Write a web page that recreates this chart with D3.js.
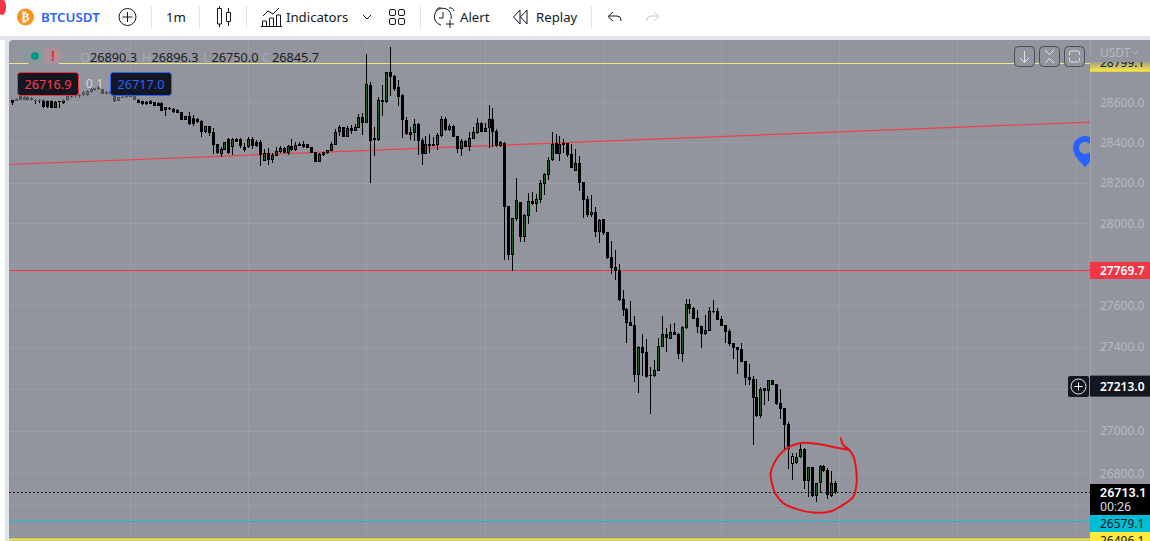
<!DOCTYPE html>
<html><head><meta charset="utf-8">
<script src="https://cdn.jsdelivr.net/npm/d3@7/dist/d3.min.js"></script>
<style>
html,body{margin:0;padding:0;background:#fff;overflow:hidden}
svg{display:block}
text{font-family:"Noto Sans",sans-serif}
</style></head><body>
<svg id="c" width="1150" height="541"></svg>
<script>
const highs=[28610,28620,28636,28631,28631,28625,28616,28618,28615,28611,
28610,28605,28606,28615,28631,28636,28641,28644,28656,28661,
28673,28681,28683,28669,28656,28661,28636,28628,28631,28634,
28634,28634,28616,28606,28606,28611,28603,28600,28603,28578,
28576,28571,28565,28551,28533,28550,28535,28520,28510,28482,
28480,28472,28394,28375,28404,28420,28420,28420,28420,28395,
28425,28427,28412,28412,28365,28370,28349,28379,28382,28375,
28387,28415,28402,28404,28409,28394,28379,28352,28346,28354,
28362,28404,28468,28488,28478,28482,28485,28492,28541,28548,
28844,28702,28475,28628,28686,28752,28880,28736,28711,28641,
28525,28475,28518,28495,28420,28432,28442,28429,28445,28531,
28525,28492,28485,28434,28417,28412,28450,28475,28520,28500,
28498,28586,28570,28465,28407,28402,
28086,28027,28221,28107,28045,28148,28156,28144,28213,28246,
28326,28451,28442,28432,28417,28396,28392,28368,28334,28203,
28135,28140,28079,28020,28022,27958,27914,27870,
27803,27676,27587,27623,27547,27403,27462,27438,27302,27337,
27445,27547,27490,27511,27517,27466,27501,27631,27632,27592,
27579,27501,27555,27592,27628,27587,27547,27506,27485,27420,
27401,27417,27332,27318,27259,27249,27211,27206,27241,27240,
27225,27198,27107,27043,26895,26895,26938,26918,26830,26832,
26753,26841,26840,26824,26811,26764];
const opens=[28610,28616,28633,28628,28628,28620,28611,28613,28611,28606,
28606,28571,28605,28595,28610,28625,28636,28638,28636,28636,
28653,28661,28678,28666,28653,28644,28631,28608,28628,28631,
28631,28631,28613,28605,28603,28606,28600,28596,28595,28560,
28573,28568,28561,28550,28513,28531,28522,28518,28507,28452,
28480,28450,28390,28342,28364,28419,28379,28419,28415,28379,
28375,28417,28402,28400,28309,28347,28312,28334,28352,28372,
28346,28382,28364,28392,28390,28390,28377,28351,28304,28352,
28346,28359,28387,28450,28475,28429,28470,28458,28473,28525,
28498,28686,28420,28412,28611,28601,28751,28731,28676,28636,
28512,28450,28447,28492,28412,28342,28392,28392,28387,28432,
28518,28462,28482,28432,28369,28409,28379,28419,28445,28497,
28453,28470,28517,28458,28382,28399,
28086,27846,28022,28107,27931,28038,28110,28095,28115,28193,
28238,28310,28396,28343,28399,28396,28343,28260,28298,28203,
28120,28042,28055,27960,28022,27958,27836,27787,
27773,27632,27584,27521,27506,27265,27400,27376,27265,27262,
27286,27400,27461,27438,27472,27462,27366,27492,27608,27589,
27538,27501,27464,27478,27574,27574,27535,27506,27477,27420,
27401,27390,27332,27256,27246,27160,27070,27203,27190,27240,
27222,27131,27107,27035,26843,26847,26876,26915,26766,26830,
26695,26753,26835,26818,26695,26753];
const closes=[28596,28608,28613,28613,28611,28610,28610,28610,28576,28576,
28571,28603,28603,28611,28630,28633,28633,28634,28653,28658,
28669,28678,28666,28644,28644,28658,28605,28625,28623,28626,
28628,28613,28598,28590,28590,28593,28583,28581,28556,28576,
28566,28553,28548,28513,28531,28492,28490,28500,28452,28480,
28448,28387,28346,28367,28400,28346,28419,28404,28380,28364,
28419,28382,28384,28337,28346,28312,28337,28356,28372,28347,
28384,28362,28385,28384,28375,28374,28349,28304,28342,28337,
28360,28392,28450,28475,28429,28470,28457,28475,28525,28498,
28691,28409,28412,28611,28601,28751,28726,28669,28628,28510,
28442,28437,28493,28409,28342,28392,28382,28384,28437,28517,
28462,28482,28429,28369,28409,28379,28420,28452,28497,28453,
28472,28517,28450,28382,28402,28082,
27846,28027,28115,27931,28042,28110,28095,28120,28200,28245,
28313,28392,28344,28392,28389,28336,28275,28296,28200,28117,
28040,28056,27958,28017,27955,27831,27782,27769,
27628,27579,27517,27503,27267,27400,27372,27256,27262,27288,
27403,27461,27441,27470,27457,27366,27498,27608,27585,27537,
27496,27464,27482,27573,27571,27532,27501,27474,27415,27395,
27387,27329,27251,27243,27156,27070,27201,27188,27240,27217,
27126,27102,27030,26915,26882,26877,26915,26766,26830,26694,
26753,26835,26811,26698,26753,26713];
const lows=[28588,28605,28610,28610,28608,28606,28591,28595,28571,28571,
28570,28570,28573,28590,28608,28620,28623,28621,28633,28633,
28649,28658,28663,28641,28641,28641,28601,28605,28620,28623,
28625,28611,28595,28588,28588,28591,28581,28580,28555,28531,
28563,28548,28545,28510,28512,28488,28483,28498,28429,28448,
28430,28342,28344,28326,28362,28342,28336,28400,28374,28351,
28370,28367,28379,28282,28306,28289,28299,28332,28349,28346,
28337,28359,28359,28380,28374,28372,28347,28302,28301,28334,
28342,28357,28385,28432,28427,28425,28440,28455,28470,28439,
28495,28200,28332,28407,28531,28595,28631,28658,28581,28420,
28437,28412,28409,28337,28287,28341,28346,28382,28362,28429,
28458,28458,28427,28346,28332,28375,28357,28415,28442,28452,
28450,28370,28379,28379,28379,27821,
27821,27769,28012,27911,27909,27998,28092,28055,28099,28140,
28213,28306,28343,28308,28346,28329,28271,28260,28159,28027,
28033,28033,27935,27906,27942,27828,27753,27723,
27620,27550,27417,27501,27233,27182,27262,27251,27078,27257,
27286,27398,27377,27438,27456,27342,27329,27488,27558,27534,
27469,27396,27459,27475,27563,27530,27501,27420,27406,27342,
27270,27326,27219,27217,26934,27067,27059,27121,27142,27217,
27124,27057,26915,26821,26769,26843,26873,26725,26690,26690,
26667,26706,26808,26679,26690,26703];
const hollowBars=[198];
const priceTicks=[28600,28400,28200,28000,27800,27600,27400,27200,27000,26800,26650];
const timeGridBars=[30,60,90,120,150,180,210,240,270];
const axisLabels=[28600,28400,28200,28000,27600,27400,27000,26800];
const trendBars=[-0.7,273.6], trendPrices=[28290,28501];
const levelRed=27769.7, levelTop=28799.1, levelBottom=26496.1, levelLast=26713.1, levelCyan=26579.1, levelCross=27213.0;
const circleBars=[210.4,211,212.5,213.6,214.2,214.4,213.6,211,207.7,203.4,199.2,195.8,193.7,192.9,192.6,193.7,196.2,200,204.3,208.5,212.5];
const circlePrices=[26966,26934,26911,26880,26833,26755,26692,26653,26622,26617,26633,26661,26708,26755,26802,26856,26911,26942,26939,26924,26911];

const x=d3.scaleLinear().domain([0,209]).range([11.7,835.3]);
const y=d3.scaleLog().domain([26800,28600]).range([473.4,102.3]);
const svg=d3.select("#c");
const axisX=1090, bg="#93959e";
const defs=svg.append("defs");
defs.append("clipPath").attr("id","plot").append("rect").attr("x",9).attr("y",40).attr("width",axisX-9).attr("height",501);
const grad=defs.append("linearGradient").attr("id","yel").attr("x1",0).attr("x2",0).attr("y1",0).attr("y2",1);
grad.append("stop").attr("offset","35%").attr("stop-color",bg);
grad.append("stop").attr("offset","100%").attr("stop-color","#ffeb3b");

/* page + chart pane */
svg.append("rect").attr("width",1150).attr("height",541).attr("fill","#fff");
svg.append("rect").attr("y",36).attr("width",1150).attr("height",505).attr("fill","#e0e3eb");
svg.append("rect").attr("y",40).attr("width",5).attr("height",501).attr("fill","#fff");
svg.append("rect").attr("x",9).attr("y",40).attr("width",1150).attr("height",520).attr("rx",4).attr("fill",bg);

/* grid */
const plot=svg.append("g").attr("clip-path","url(#plot)");
plot.append("g").selectAll("line").data(priceTicks).join("line")
 .attr("x1",9).attr("x2",axisX).attr("y1",d=>Math.round(y(d))+.5).attr("y2",d=>Math.round(y(d))+.5)
 .attr("stroke","#9a9ca6");
plot.append("g").selectAll("line").data(timeGridBars).join("line")
 .attr("y1",40).attr("y2",541).attr("x1",d=>Math.round(x(d))+.5).attr("x2",d=>Math.round(x(d))+.5)
 .attr("stroke","#9a9ca6");

/* level lines */
const hl=(v,col,w,dash)=>plot.append("line").attr("x1",9).attr("x2",axisX)
 .attr("y1",Math.round(y(v))+.5).attr("y2",Math.round(y(v))+.5).attr("stroke",col).attr("stroke-width",w).attr("stroke-dasharray",dash||null);
hl(levelCyan,"#1fb6cb",1);
hl(levelTop,"#efe888",1);
hl(levelBottom,"#ffeb3b",2);
hl(levelRed,"#f23645",1.2);
hl(levelLast,"#000",1.2,"1.5 2.5");
plot.append("path").datum(trendBars.map((b,i)=>[b,trendPrices[i]]))
 .attr("d",d3.line().x(d=>x(d[0])).y(d=>y(d[1]))).attr("fill","none").attr("stroke","#ef3f4c").attr("stroke-width",1.2);

/* candles */
const bars=d3.range(highs.length);
const cx=i=>Math.round(x(i));
const cg=plot.append("g").attr("shape-rendering","crispEdges");
cg.selectAll("rect.w").data(bars).join("rect").attr("class","w")
 .attr("x",i=>cx(i)).attr("width",1)
 .attr("y",i=>y(highs[i])).attr("height",i=>Math.max(1,y(lows[i])-y(highs[i]))).attr("fill","#000");
const bodyTop=i=>y(Math.max(opens[i],closes[i]));
const bodyH=i=>Math.max(1,Math.abs(y(opens[i])-y(closes[i])));
cg.selectAll("rect.b").data(bars).join("rect").attr("class","b")
 .attr("x",i=>cx(i)-1).attr("width",3)
 .attr("y",bodyTop).attr("height",bodyH).attr("fill","#000");
const ups=bars.filter(i=>closes[i]>opens[i]);
cg.selectAll("rect.u").data(ups).join("rect").attr("class","u")
 .attr("x",i=>cx(i)).attr("width",1)
 .attr("y",i=>bodyTop(i)+1).attr("height",i=>Math.max(0,bodyH(i)-2))
 .attr("fill",i=>hollowBars.includes(i)?"#b9bbc2":"#1a5c25");

/* hand-drawn circle */
plot.append("path").datum(circleBars.map((b,i)=>[b,circlePrices[i]]))
 .attr("d",d3.line().x(d=>x(d[0])).y(d=>y(d[1])).curve(d3.curveCatmullRom))
 .attr("fill","none").attr("stroke","#e8121c").attr("stroke-width",2).attr("stroke-linecap","round");

/* dimming under the order panel */
svg.append("rect").attr("x",14).attr("y",70).attr("width",122).attr("height",31).attr("fill",bg).attr("opacity",.55);

/* legend row */
const T=(tx,ty,s,o={})=>{const t=svg.append("text").attr("x",tx).attr("y",ty).text(s)
 .attr("font-size",o.size||13).attr("fill",o.fill||"#131722").attr("text-anchor",o.anchor||"start")
 .attr("font-weight",o.weight||400);if(o.op)t.attr("opacity",o.op);if(o.fam)t.style("font-family",o.fam);return t;};
svg.append("rect").attr("x",24).attr("y",47).attr("width",39).attr("height",18).attr("rx",9).attr("fill","#8a9a9c");
svg.append("path").attr("d","M44 47h10a9 9 0 0 1 0 18h-10z").attr("fill","#ab9198");
svg.append("circle").attr("cx",35).attr("cy",56).attr("r",4).attr("fill","#089981");
T(53,61,"!",{anchor:"middle",fill:"#e5323f",weight:700,size:14});
[[80,"O","26890.3"],[141.5,"H","26896.3"],[203,"L","26750.0"],[262,"C","26845.7"]].forEach(([px,a,b])=>{
 T(px,62,a,{fill:"#a9abb3"});
 T(px+(a=="L"?8.5:10),62,b,{fill:"#1a1c22",size:12.7});
});

/* order buttons */
[[17.5,"26716.9","#f23645","#ff3b4a"],[110.5,"26717.0","#2962ff","#2962ff"]].forEach(([bx,s,st,tc])=>{
 svg.append("rect").attr("x",bx).attr("y",72.5).attr("width",61).attr("height",23).attr("rx",3).attr("fill","#131722").attr("stroke",st);
 T(bx+30.5,89,s,{anchor:"middle",fill:tc,size:12.7});
});
T(94.5,88,"0.1",{anchor:"middle",fill:"#d1d4dc",size:12.5});

/* top-right buttons */
[1014.5,1039.5,1064.5].forEach((bx,i)=>{
 svg.append("rect").attr("x",bx).attr("y",46.5).attr("width",20).attr("height",20).attr("rx",4).attr("fill",bg).attr("stroke","#4a4d58");
});
const ic=svg.append("g").attr("fill","none").attr("stroke","#e4e5ea").attr("stroke-width",1);
ic.append("path").attr("d","M1024.5 51v11M1020 58l4.5 4.5l4.5-4.5");
ic.append("path").attr("d","M1045 50l4.5 4.5l4.5-4.5M1045 63l4.5-4.5l4.5 4.5");
ic.append("path").attr("d","M1069.5 55v-2a2 2 0 0 1 2-2h6a2 2 0 0 1 2 2v2M1069.5 58v2a2 2 0 0 0 2 2h6a2 2 0 0 0 2-2v-2");

/* pin */
svg.append("clipPath").attr("id","pin").append("rect").attr("x",1060).attr("y",130).attr("width",30).attr("height",45);
svg.append("path").attr("clip-path","url(#pin)").attr("fill-rule","evenodd").attr("fill","#2962ff")
 .attr("d","M1085 136a12 12 0 0 1 12 12c0 8-8 14-12 19.500c-4-5.500-12-11.500-12-19.500a12 12 0 0 1 12-12zM1085 142a6 6 0 1 0 .1 0z");

/* price axis */
svg.append("rect").attr("x",axisX).attr("y",40).attr("width",60).attr("height",501).attr("fill",bg);
svg.append("line").attr("x1",axisX+.5).attr("x2",axisX+.5).attr("y1",40).attr("y2",541).attr("stroke","#a4a6ae");
const axis=d3.axisRight(y).tickValues(axisLabels).tickFormat(d3.format(".1f")).tickSize(0).tickPadding(10);
const ag=svg.append("g").attr("transform",`translate(${axisX},0)`).call(axis);
ag.select(".domain").remove();
ag.selectAll("text").attr("fill","#b6b8c0").style("font-size","12px").style("font-family",'"Noto Sans",sans-serif');

/* price tags */
const py=v=>y(v);
svg.append("rect").attr("x",axisX).attr("y",py(levelTop)-8).attr("width",60).attr("height",17).attr("fill","url(#yel)");
T(1100,py(levelTop)+4.5,d3.format(".1f")(levelTop),{size:12,fill:"#131722"});
svg.append("rect").attr("x",axisX+1).attr("y",40).attr("width",59).attr("height",22).attr("fill",bg);
T(1100,57,"USDT",{size:12,fill:"#b6b8c0"});
svg.append("path").attr("d","M1132 51l3 3l3-3").attr("fill","none").attr("stroke","#b6b8c0");

const tag=(v,col,tc,h,o={})=>{
 svg.append("rect").attr("x",axisX).attr("y",o.top??py(v)-h/2).attr("width",60).attr("height",h).attr("fill",col);
 T(1100,(o.top??py(v)-h/2)+(o.base??h/2+4.5),d3.format(".1f")(v),{size:12,fill:tc,weight:o.weight||400});
};
tag(levelRed,"#f23645","#fff",17,{weight:600});
tag(levelCross,"#131722","#fff",21,{weight:600});
svg.append("rect").attr("x",1068).attr("y",376).attr("width",21).attr("height",21).attr("rx",2).attr("fill","#131722");
svg.append("circle").attr("cx",1078.5).attr("cy",386.5).attr("r",7.5).attr("fill","none").attr("stroke","#e8e9ee");
svg.append("path").attr("d","M1078.5 382.500v8M1074.500 386.500h8").attr("stroke","#fff");
svg.append("rect").attr("x",axisX).attr("y",484).attr("width",60).attr("height",31).attr("fill","#000");
T(1100,497,d3.format(".1f")(levelLast),{size:12.5,fill:"#fff",weight:600,fam:"Roboto"});
T(1100,511,"00:26",{size:12.5,fill:"#d8d9de",fam:"Roboto"});
tag(levelCyan,"#00bcd4","#131722",17,{top:515,base:13});
tag(levelBottom,"#ffeb3b","#131722",10,{top:532,base:13});

/* toolbar */
const tb=svg.append("g");
tb.append("path").attr("d","M0 0h4a4 8 0 0 1-4 14z").attr("fill","#f23645");
tb.append("circle").attr("cx",25.5).attr("cy",17).attr("r",8.5).attr("fill","#f7931a");
T(25.5,21,"₿",{anchor:"middle",fill:"#fff",size:12,weight:700,fam:"DejaVu Sans"});
T(41,22,"BTCUSDT",{fill:"#2962ff",weight:600,size:13.3});
tb.append("circle").attr("cx",127.5).attr("cy",17).attr("r",8.5).attr("fill","none").attr("stroke","#131722");
tb.append("path").attr("d","M127.500 12v10M122.500 17h10").attr("stroke","#131722");
[151.5,199.5,246.5,420.5,591.5].forEach(sx=>tb.append("line").attr("x1",sx).attr("x2",sx).attr("y1",6).attr("y2",28).attr("stroke","#e0e3eb"));
T(166,22,"1m",{size:13.2});
const stroke=tb.append("g").attr("fill","none").attr("stroke","#131722");
stroke.append("path").attr("d","M219.500 6v2M219.500 24v3M228.500 8v4M228.500 22v4M217.500 8.500h4v15.500h-4zM226.500 12.500h4v9h-4z");
stroke.append("path").attr("d","M263 16l5-5l5 3l6-6M262.500 26v-5h4v5M269.500 26v-8h4v8M276.500 26v-11h4v11M261 26.500h21");
T(286,22,"Indicators",{size:13.2});
stroke.append("path").attr("d","M363 15l4 4l4-4");
[[389.5,9.5],[398.5,9.5],[389.5,18.5],[398.5,18.5]].forEach(([a,b])=>stroke.append("rect").attr("x",a).attr("y",b).attr("width",6).attr("height",6).attr("rx",1.5));
stroke.append("path").attr("d","M436 11a4 4 0 0 1 5-3M449 8a4 4 0 0 1 5 3M443 12v6h-4M441 25a8.500 8.500 0 1 1 10-6M450 20v8M446 24h8");
T(460,22,"Alert",{size:13.2});
stroke.append("path").attr("d","M520 10l-6.500 7l6.500 7zM527 10l-6.500 7l6.500 7z");
T(536,22,"Replay",{size:13.2});
stroke.append("path").attr("d","M621 21v-1a4 4 0 0 0-4-4h-8M613 12l-5 4.500l5 4.500");
tb.append("path").attr("d","M647 21v-1a4 4 0 0 1 4-4h7M654 12l5 4.500l-5 4.500").attr("fill","none").attr("stroke","#c8cad2");
</script>
</body></html>
